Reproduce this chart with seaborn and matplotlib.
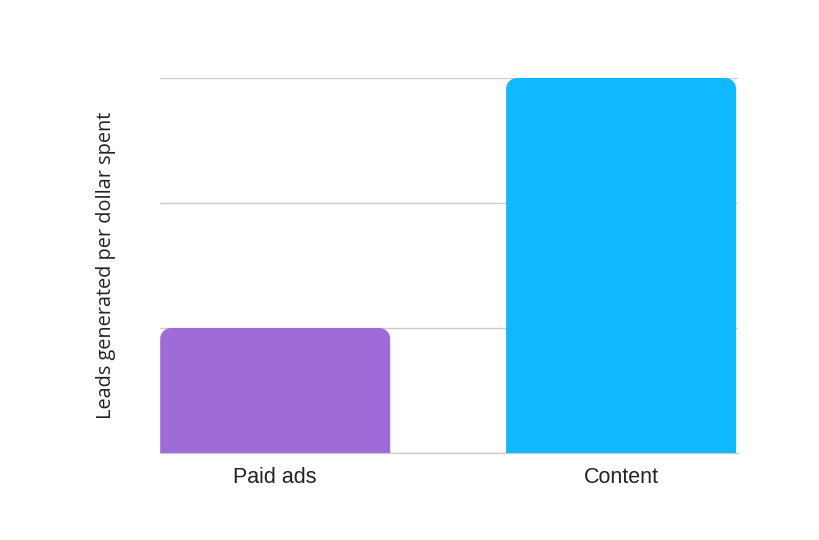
import matplotlib
matplotlib.use("Agg")
import matplotlib.pyplot as plt
import seaborn as sns
import pandas as pd
from matplotlib.path import Path
from matplotlib.patches import PathPatch

categories = ["Paid ads", "Content"]
values = [1.0, 3.0]
colors = ["#9E6BD8", "#10B8FF"]
y_ticks = [0, 1, 2, 3]
y_label = "Leads generated per dollar spent"

df = pd.DataFrame({"category": categories, "value": values})

sns.set_theme(style="white")
plt.rcParams["font.family"] = ["Liberation Sans", "DejaVu Sans"]

fig = plt.figure(figsize=(8.2, 5.4), dpi=100)
ax = fig.add_axes([160 / 820, 87 / 540, 578 / 820, 375 / 540])

sns.barplot(data=df, x="category", y="value", hue="category",
            palette=colors, width=0.665, ax=ax, legend=False, saturation=1)

ax.set_xlim(-0.333, 1.338)
ax.set_ylim(0, 3)
ax.set_yticks(y_ticks)
ax.set_yticklabels([])
ax.tick_params(axis="y", length=0)
ax.tick_params(axis="x", length=0, labelsize=15.5, colors="#222222", pad=10)
ax.grid(axis="y", color="#cccccc", linewidth=1)
ax.set_axisbelow(True)
for s in ax.spines.values():
    s.set_visible(False)
ax.axhline(0, color="#cccccc", linewidth=1, clip_on=False, zorder=0.5)
ax.set_xlabel("")
ax.set_ylabel(y_label, fontsize=14.3, family=["Open Sans", "DejaVu Sans"],
              color="#222222", labelpad=28)

# rounded top corners (radius ~10 px) computed from each bar's extent
fig.canvas.draw()
px_x = (ax.get_xlim()[1] - ax.get_xlim()[0]) / (578)
px_y = (ax.get_ylim()[1] - ax.get_ylim()[0]) / (375)
r = 11
rx, ry = r * px_x, r * px_y
k = 0.5523
for p in list(ax.patches):
    x0, y0 = p.get_x(), p.get_y()
    w, h = p.get_width(), p.get_height()
    x1, y1 = x0 + w, y0 + h
    fc = p.get_facecolor()
    verts = [
        (x0, y0), (x0, y1 - ry),
        (x0, y1 - ry + k * ry), (x0 + rx - k * rx, y1), (x0 + rx, y1),
        (x1 - rx, y1),
        (x1 - rx + k * rx, y1), (x1, y1 - ry + k * ry), (x1, y1 - ry),
        (x1, y0), (x0, y0),
    ]
    codes = [Path.MOVETO, Path.LINETO,
             Path.CURVE4, Path.CURVE4, Path.CURVE4,
             Path.LINETO,
             Path.CURVE4, Path.CURVE4, Path.CURVE4,
             Path.LINETO, Path.CLOSEPOLY]
    p.set_visible(False)
    ax.add_patch(PathPatch(Path(verts, codes), facecolor=fc, edgecolor="none", zorder=3))

fig.savefig("out.png", dpi=100, facecolor="white")
